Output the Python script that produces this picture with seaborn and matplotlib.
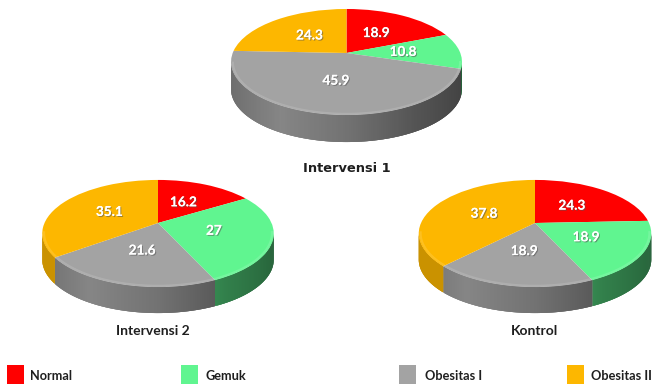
import numpy as np
import matplotlib
matplotlib.use("Agg")
import matplotlib.pyplot as plt
import matplotlib.patheffects as pe
from matplotlib.collections import PolyCollection
from matplotlib.patches import Rectangle
from matplotlib.transforms import Transform
import seaborn as sns

categories = ["Normal", "Gemuk", "Obesitas I", "Obesitas II"]
intervensi_1 = [18.9, 10.8, 45.9, 24.3]
intervensi_2 = [16.2, 27, 21.6, 35.1]
kontrol = [24.3, 18.9, 18.9, 37.8]
hex_colors = ["#FF0000", "#60F590", "#A3A3A3", "#FDB700"]

sns.set_theme(style="white")
palette = sns.color_palette(hex_colors)
FONT = "Lato"


class TiltedDisc(Transform):
    """Projects the unit disc onto the figure as a disc seen in perspective."""
    input_dims = 2
    output_dims = 2
    is_separable = False
    has_inverse = False

    def __init__(self, cx, cy, a, b, k):
        super().__init__()
        self.cx, self.cy, self.a, self.b, self.k = cx, cy, a, b, k

    def transform_non_affine(self, values):
        values = np.asarray(values, dtype=float)
        w = 1 + self.k * values[:, 1]
        return np.column_stack([self.cx + self.a * values[:, 0] / w,
                                self.cy - self.b * values[:, 1] / w])


def side_shade(x, is_orange):
    # brightness of the cylinder wall from its left end to its right end
    shade = np.interp(x, [-1, -0.5, 0, 0.5, 1], [0.66, 0.82, 0.70, 0.52, 0.40])
    return max(shade, 0.8) if is_orange else shade


def draw_disc(ax, values, cx, cy, a, b, k, depth):
    disc = TiltedDisc(cx, cy, a, b, k)
    wedges, texts = ax.pie(values, colors=palette, startangle=90, counterclock=False,
                           labels=[f"{v:g}" for v in values], labeldistance=0.5,
                           wedgeprops=dict(linewidth=0, zorder=3))
    for wedge, color in zip(wedges, palette):
        wedge.set_transform(disc + ax.transData)
        angles = np.deg2rad(np.linspace(wedge.theta1, wedge.theta2, 181))
        rim = disc.transform_non_affine(np.column_stack([np.cos(angles), np.sin(angles)]))
        is_orange = color[0] > 0.9 and color[1] > 0.5 and color[2] < 0.1
        # side wall: overlapping strips so no seams show between them
        polys, shades = [], []
        for i in range(len(angles) - 1):
            if np.sin(angles[i]) > -k:
                continue
            j = min(i + 3, len(angles) - 1)
            p, q = rim[i], rim[j]
            polys.append([p, q, q + [0, depth], p + [0, depth]])
            shades.append(tuple(np.array(color) * side_shade(np.cos(angles[i]), is_orange)))
        if polys:
            ax.add_collection(PolyCollection(polys, facecolors=shades, edgecolors="none",
                                             linewidths=0, zorder=2))
        # pale bevel along the front edge of the top face
        front = np.sin(angles) < -0.15
        if front.sum() > 1:
            bevel = 0.985
            pts = disc.transform_non_affine(np.column_stack([bevel * np.cos(angles[front]),
                                                             bevel * np.sin(angles[front])]))
            ax.plot(pts[:, 0], pts[:, 1], color="white", alpha=0.13, lw=1.6, zorder=4,
                    solid_capstyle="butt")
    for text in texts:
        text.set_transform(disc + ax.transData)
        text.set(ha="center", va="center", color="white", fontsize=9.8, family=FONT,
                 fontweight="bold", zorder=5,
                 path_effects=[pe.withSimplePatchShadow(offset=(0.8, -0.8), shadow_rgbFace="#555555",
                                                        alpha=0.55), pe.Normal()])


fig = plt.figure(figsize=(6.52, 3.84), dpi=100, facecolor="white")
ax = fig.add_axes([0, 0, 1, 1])

draw_disc(ax, intervensi_1, 346.5, 53, 113.8, 51.5, 0.17, 27)
draw_disc(ax, intervensi_2, 158, 223, 113.5, 51.5, 0.196, 26)
draw_disc(ax, kontrol, 535, 223, 114, 51.5, 0.196, 26)

ax.set_aspect("auto")
ax.set_box_aspect(None)
ax.set_xlim(0, 652)
ax.set_ylim(384, 0)
ax.axis("off")

ax.text(346.5, 168, "Intervensi 1", ha="center", va="center", fontsize=9.4,
        family="DejaVu Sans", fontweight="bold", color="#1f1f1f")
ax.text(153, 331, "Intervensi 2", ha="center", va="center", fontsize=10,
        family=FONT, fontweight="bold", color="#1f1f1f")
ax.text(535, 331, "Kontrol", ha="center", va="center", fontsize=10,
        family=FONT, fontweight="bold", color="#1f1f1f")

# legend row, spaced unevenly across the bottom edge
swatch_x = [7, 181, 399, 567]
label_x = [30, 205, 425, 591]
for name, color, sx, lx in zip(categories, palette, swatch_x, label_x):
    ax.add_patch(Rectangle((sx, 365), 17, 20, facecolor=color, edgecolor="none", clip_on=True))
    ax.text(lx, 376.5, name, ha="left", va="center", fontsize=9.2, family=FONT,
            fontweight="bold", color="#1f1f1f")

fig.savefig("out.png", dpi=100, facecolor="white")
